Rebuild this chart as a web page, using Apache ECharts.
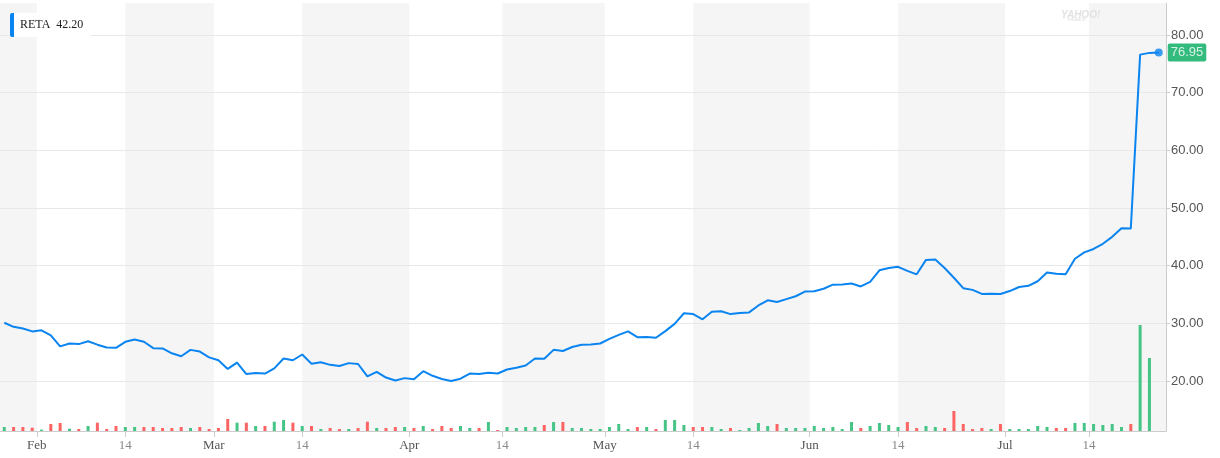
<!DOCTYPE html>
<html><head><meta charset="utf-8">
<script src="https://cdn.jsdelivr.net/npm/echarts@6/dist/echarts.min.js"></script>
<style>html,body{margin:0;padding:0;background:#fff}#c{width:1220px;height:458px}</style>
</head><body><div id="c"></div>
<script>
const ticker = 'RETA';
const legendValue = '42.20';

// trading days, 2018
const dates = [
 '01-26','01-29','01-30','01-31',
 '02-01','02-02','02-05','02-06','02-07','02-08','02-09','02-12','02-13','02-14','02-15','02-16','02-20','02-21','02-22','02-23','02-26','02-27','02-28',
 '03-01','03-02','03-05','03-06','03-07','03-08','03-09','03-12','03-13','03-14','03-15','03-16','03-19','03-20','03-21','03-22','03-23','03-26','03-27','03-28','03-29',
 '04-02','04-03','04-04','04-05','04-06','04-09','04-10','04-11','04-12','04-13','04-16','04-17','04-18','04-19','04-20','04-23','04-24','04-25','04-26','04-27','04-30',
 '05-01','05-02','05-03','05-04','05-07','05-08','05-09','05-10','05-11','05-14','05-15','05-16','05-17','05-18','05-21','05-22','05-23','05-24','05-25','05-29','05-30','05-31',
 '06-01','06-04','06-05','06-06','06-07','06-08','06-11','06-12','06-13','06-14','06-15','06-18','06-19','06-20','06-21','06-22','06-25','06-26','06-27','06-28','06-29',
 '07-02','07-03','07-05','07-06','07-09','07-10','07-11','07-12','07-13','07-16','07-17','07-18','07-19','07-20','07-23','07-24','07-25'
];

const prices = [
 30.1,29.4,29.1,28.6,28.8,27.9,26.0,26.5,26.4,26.9,26.3,25.8,25.75,26.8,27.2,26.8,25.7,25.65,24.8,24.3,25.4,25.1,24.1,23.6,22.1,
 23.2,21.2,21.4,21.3,22.2,23.9,23.6,24.6,23.0,23.25,22.8,22.6,23.1,22.95,20.8,21.6,20.6,20.1,20.5,20.3,21.7,20.9,20.35,20.0,20.4,
 21.3,21.2,21.45,21.3,22.0,22.3,22.7,23.9,23.85,25.4,25.2,25.9,26.3,26.35,26.5,27.3,28.0,28.6,27.6,27.65,27.5,28.65,29.9,31.75,31.6,
 30.7,32.0,32.1,31.6,31.8,31.9,33.1,34.0,33.7,34.2,34.7,35.5,35.55,36.0,36.7,36.75,36.9,36.4,37.2,39.2,39.6,39.8,39.1,38.5,41.0,
 41.05,39.6,37.9,36.1,35.8,35.1,35.15,35.1,35.6,36.3,36.5,37.3,38.8,38.6,38.5,41.2,42.3,42.9,43.8,45.0,46.5,46.45,76.6,76.9,76.95
];

// volume, thousands of shares (last session has none)
const volumes = [
 80,80,80,66,26,140,160,46,40,100,166,40,100,80,80,80,80,60,60,80,60,80,40,60,240,
 166,166,100,100,186,220,166,100,100,40,60,40,40,60,186,60,60,80,80,60,100,40,100,60,100,
 60,60,180,20,80,60,80,80,120,180,180,60,60,40,40,80,140,40,80,80,40,220,220,120,80,
 80,80,40,60,20,60,160,100,140,60,60,60,100,60,80,40,180,60,100,160,120,80,180,60,100,
 80,60,400,140,40,60,40,140,40,40,40,100,80,60,60,160,160,140,120,140,80,140,2120,1460
];

const xTickValues = [3.5, 13, 22.5, 32, 43.5, 53.5, 64.5, 74, 86.5, 96, 107.5, 116.5];
const xTickLabels = ['Feb','14','Mar','14','Apr','14','May','14','Jun','14','Jul','14'];
const yTickValues = [20, 30, 40, 50, 60, 70, 80];

const LINE = '#0a84f0', UP = '#45c486', DOWN = '#ff6464';
const xMin = -0.46, xMax = 124.78, yMin = 11.33, yMax = 85.55, volMax = 8560;
const lastIdx = prices.length - 1;

const priceData = prices.map((v, i) => [i, v]);
const volData = volumes.map((v, i) => ({
  value: [i, v],
  itemStyle: { color: (i === 0 || prices[i] >= prices[i - 1]) ? UP : DOWN }
}));

function xLabel(v) {
  let best = 0, bd = Infinity;
  xTickValues.forEach((t, k) => { const d = Math.abs(t - v); if (d < bd) { bd = d; best = k; } });
  const s = xTickLabels[best];
  return /^\d+$/.test(s) ? '{d|' + s + '}' : '{m|' + s + '}';
}

const chart = echarts.init(document.getElementById('c'), null, { renderer: 'canvas' });
chart.setOption({
  animation: false,
  backgroundColor: '#ffffff',
  grid: { left: 0, right: 54, top: 3, bottom: 27, containLabel: false },
  xAxis: [
    {
      type: 'value', min: xMin, max: xMax, position: 'bottom', z: 1,
      axisLine: { show: true, onZero: false, lineStyle: { color: '#cccccc', width: 1 } },
      axisTick: { show: true, customValues: xTickValues, length: 6, lineStyle: { color: '#cccccc' } },
      axisLabel: {
        show: true, customValues: xTickValues, formatter: xLabel, margin: 8,
        rich: {
          m: { color: '#555555', fontFamily: '"Liberation Serif", "DejaVu Serif", serif', fontSize: 13 },
          d: { color: '#8a8a8a', fontFamily: '"Liberation Serif", "DejaVu Serif", serif', fontSize: 13 }
        }
      },
      splitLine: { show: false }
    },
    {
      type: 'value', min: xMin, max: xMax, position: 'bottom', z: -1,
      axisLine: { show: false, onZero: false },
      axisTick: { show: false, customValues: [xMin].concat(xTickValues, [xMax]) },
      axisLabel: { show: false },
      splitLine: { show: false },
      splitArea: { show: true, areaStyle: { color: ['#f5f5f5', 'rgba(255,255,255,0)'] } }
    }
  ],
  yAxis: [
    {
      type: 'value', position: 'right', min: yMin, max: yMax, z: 1,
      axisLine: { show: true, onZero: false, lineStyle: { color: '#cccccc', width: 1 } },
      axisTick: { show: true, inside: false, length: 4, customValues: yTickValues, lineStyle: { color: '#cccccc' } },
      axisLabel: {
        customValues: yTickValues, formatter: v => v.toFixed(2), margin: 5,
        color: '#555555', fontSize: 13, fontFamily: '"Liberation Sans", Arial, sans-serif'
      },
      splitLine: { show: true, lineStyle: { color: '#e8e8e8', width: 1 } }
    },
    { type: 'value', min: 0, max: volMax, show: false, axisLine: { onZero: false } }
  ],
  series: [
    { type: 'bar', xAxisIndex: 0, yAxisIndex: 1, data: volData, barWidth: 3, silent: true, z: 2 },
    {
      type: 'line', xAxisIndex: 0, yAxisIndex: 0, data: priceData, showSymbol: false,
      lineStyle: { color: LINE, width: 2 }, itemStyle: { color: LINE }, z: 3
    },
    {
      type: 'scatter', xAxisIndex: 0, yAxisIndex: 0, data: [[lastIdx, prices[lastIdx]]],
      symbolSize: 8, itemStyle: { color: LINE }, z: 4,
      label: {
        show: true, position: 'right', distance: 5,
        formatter: p => p.value[1].toFixed(2),
        backgroundColor: '#00a95c', color: '#ffffff', fontSize: 13,
        fontFamily: '"Liberation Sans", Arial, sans-serif', padding: [3, 3, 2, 3], borderRadius: 2
      }
    }
  ],
  graphic: [
    { type: 'rect', left: 10, top: 13, shape: { width: 81, height: 24 }, style: { fill: '#ffffff' }, z: 100 },
    { type: 'rect', left: 10, top: 13, shape: { width: 4, height: 24, r: [2, 0, 0, 2] }, style: { fill: LINE }, z: 101 },
    { type: 'text', left: 20, top: 19, style: { text: ticker + '  ' + legendValue, font: '12px "Liberation Serif", serif', fill: '#222222' }, z: 101 },
    { type: 'text', left: 1061, top: 10, style: { text: 'YAHOO!', font: 'italic bold 10px "Liberation Sans", sans-serif', fill: '#e2e2e2' }, z: 50 },
    { type: 'text', left: 1068, top: 18, style: { text: 'FINANCE', font: 'bold 4px "Liberation Sans", sans-serif', fill: '#e6e6e6' }, z: 50 }
  ]
});
</script>
</body></html>
